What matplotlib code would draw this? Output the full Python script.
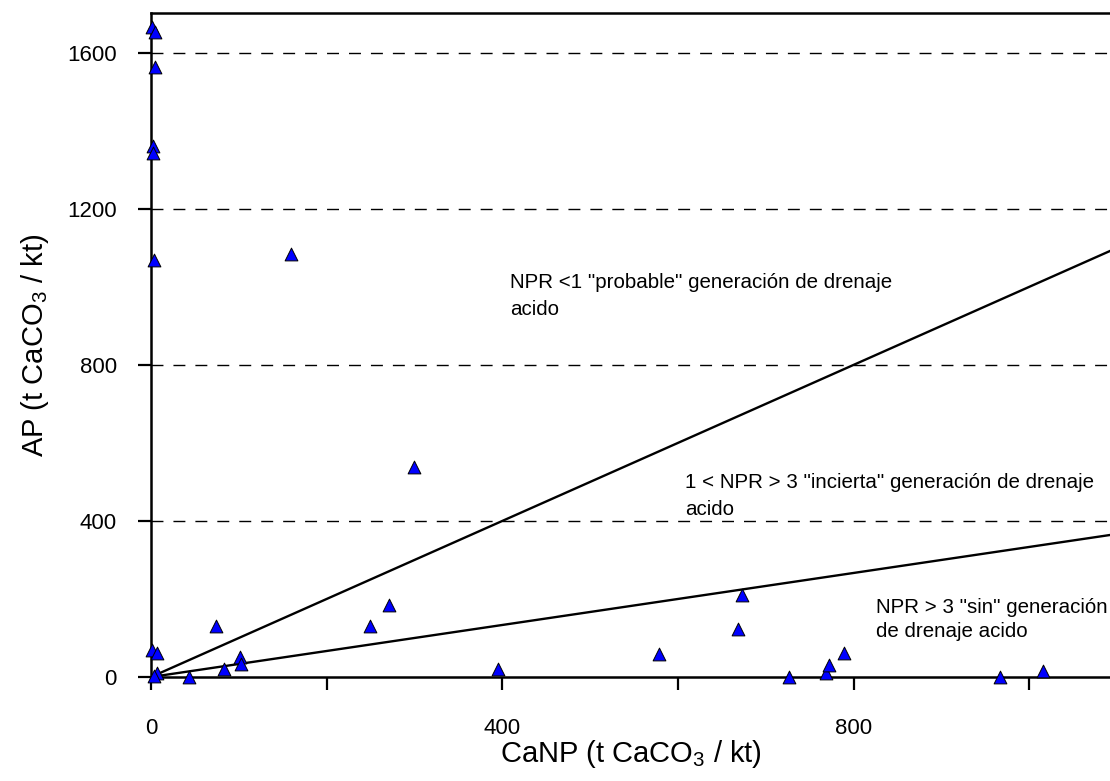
import matplotlib
matplotlib.use("Agg")
import matplotlib.pyplot as plt
import numpy as np

# data
canp = [1, 5, 5, 2, 2, 3, 1, 7, 7, 3, 43, 74, 83, 101, 102, 159, 249, 271, 299,
        395, 578, 668, 673, 727, 769, 772, 789, 967, 1016]
ap = [1667, 1654, 1564, 1361, 1343, 1069, 69, 61, 10, 2, 0, 131, 20, 51, 33, 1085,
      131, 185, 538, 20, 59, 123, 210, 0, 10, 30, 62, 0, 15]
npr_ratios = [1, 3]
grid_levels = [400, 800, 1200, 1600]
x_ticks = [0, 200, 400, 600, 800, 1000]
x_ticklabels = ["0", "", "400", "", "800", ""]
y_ticks = [0, 400, 800, 1200, 1600]
y_ticklabels = ["0", "400", "800", "1200", "1600"]
annotations = [
    'NPR <1 "probable" generación de drenaje\nacido',
    '1 < NPR > 3 "incierta" generación de drenaje\nacido',
    'NPR > 3 "sin" generación\nde drenaje acido',
]
ann_pos = [(409, 928), (608, 415), (825, 103)]
ann_spacing = [1.55, 1.55, 1.3]

plt.rcParams['font.family'] = ['Liberation Sans', 'DejaVu Sans']
plt.rcParams['mathtext.fontset'] = 'custom'
plt.rcParams['mathtext.rm'] = 'Liberation Sans'
plt.rcParams['mathtext.it'] = 'Liberation Sans'

fig = plt.figure(figsize=(11.10, 7.81), dpi=100)
ax = fig.add_axes([151/1110, 104/781, 1 - 151/1110, 664/781])

xmax, ymax = 1092, 1702
ax.set_xlim(0, xmax)
ax.set_ylim(0, ymax)

for g in grid_levels:
    ax.axhline(g, color='black', lw=1.0, dashes=(8.6, 7.2), zorder=1)

xs = np.array([0, xmax])
for r in npr_ratios:
    ax.plot(xs, xs / r, color='black', lw=1.7, zorder=2)

ax.scatter(canp, ap, marker='^', s=85, facecolor='#0000ff', edgecolor='black',
           linewidth=0.7, zorder=5, clip_on=False)

for txt, (tx, ty), lsp in zip(annotations, ann_pos, ann_spacing):
    ax.text(tx, ty, txt, fontsize=14.8, va='baseline', ha='left',
            linespacing=lsp, zorder=4)

ax.set_xticks(x_ticks)
ax.set_xticklabels(x_ticklabels)
ax.set_yticks(y_ticks)
ax.set_yticklabels(y_ticklabels)
ax.tick_params(axis='both', direction='out', length=9.5, width=1.6,
               labelsize=16)
ax.tick_params(axis='x', pad=20)
ax.tick_params(axis='y', pad=15)

for s in ['left', 'bottom', 'top']:
    ax.spines[s].set_linewidth(1.8)
ax.spines['right'].set_visible(False)

ax.set_xlabel('CaNP (t CaCO$_3$ / kt)', fontsize=21, labelpad=-1)
ax.set_ylabel('AP (t CaCO$_3$ / kt)', fontsize=21, labelpad=12)

fig.savefig('out.png', dpi=100)
